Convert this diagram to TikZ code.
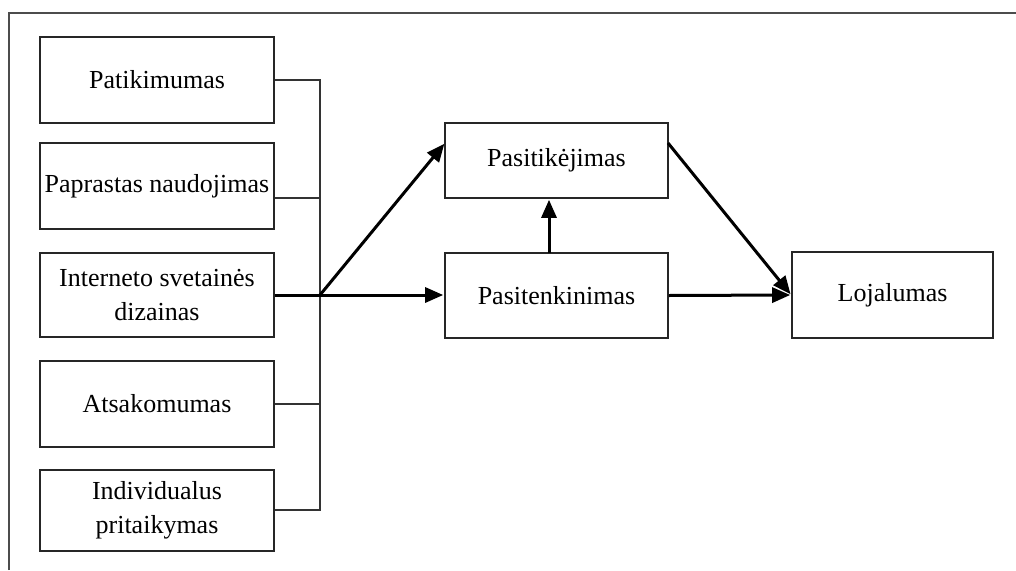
\documentclass[tikz,border=0pt]{standalone}
\usepackage{fontspec}
\setmainfont{Liberation Serif}
\usetikzlibrary{arrows.meta,calc}
\tikzset{
  box/.style={draw=black!85, line width=1.6pt, inner sep=0pt, align=center,
              font=\fontsize{26}{34.5}\selectfont},
  link/.style={draw=black!80, line width=1.6pt},
  arr/.style={draw=black, line width=3pt,
              -{Triangle[length=18pt,width=15pt]}, shorten >=1pt},
}
\begin{document}
\begin{tikzpicture}[x=1pt,y=-1pt]
\useasboundingbox (0,0) rectangle (1016,570);
% outer frame
\draw[black!70, line width=2pt] (9,570) -- (9,13) -- (1016,13);

% factor boxes
\node[box, minimum width=234pt, minimum height=86pt] (p1) at (157,80) {Patikimumas};
\node[box, minimum width=234pt, minimum height=86pt] (p2) at (157,186) {Paprastas naudojimas};
\node[box, minimum width=234pt, minimum height=84pt] (p3) at (157,295) {Interneto svetainės\\dizainas};
\node[box, minimum width=234pt, minimum height=86pt] (p4) at (157,404) {Atsakomumas};
\node[box, minimum width=234pt, minimum height=81pt] (p5) at (157,510.5) {Individualus\\pritaikymas};

% outcome boxes
\node[box, minimum width=223pt, minimum height=75pt] (trust) at (556.5,160.5) {Pasitikėjimas};
\node[box, minimum width=223pt, minimum height=85pt] (sat) at (556.5,295.5) {Pasitenkinimas};
\node[box, minimum width=201pt, minimum height=86pt] (loy) at (892.5,295) {Lojalumas};

% collecting bus
\coordinate (j1) at (320,80);
\coordinate (j2) at (320,198);
\coordinate (j3) at (320,295);
\coordinate (j4) at (320,404);
\coordinate (j5) at (320,510);
\draw[link] (p1.east |- j1) -- (j1) -- (j5) -- (p5.east |- j5);
\draw[link] (p2.east |- j2) -- (j2);
\draw[link] (p4.east |- j4) -- (j4);

% arrows
\coordinate (tIn) at (445,143);
\draw[arr] (p3.east |- j3) -- (sat.west |- j3);
\draw[arr] (j3) -- (tIn);
\coordinate (sUp) at (549,253);
\draw[arr] (sUp) -- (sUp |- trust.south);
\coordinate (tOut) at (668,143);
\draw[arr] (tOut) -- (loy.west);
\draw[arr] (sat.east) -- (loy.west);
\end{tikzpicture}
\end{document}
